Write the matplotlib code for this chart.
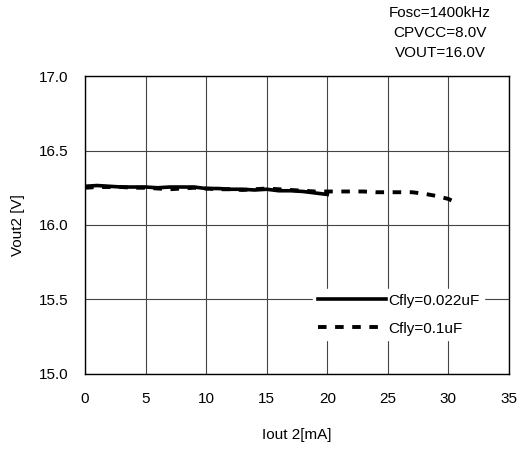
import matplotlib
matplotlib.use("Agg")
import matplotlib.pyplot as plt

plt.rcParams['font.family'] = ['Liberation Sans', 'DejaVu Sans']

x_solid = [0, 1, 2, 3, 4, 5, 6, 7, 8, 9, 10, 11, 12, 13, 14, 15, 16, 17, 18, 19, 20]
y_solid = [16.26, 16.265, 16.26, 16.255, 16.255, 16.255, 16.25, 16.255, 16.255, 16.255, 16.245, 16.245, 16.24, 16.24, 16.235, 16.24, 16.23, 16.23, 16.225, 16.215, 16.205]
x_dash = [0, 1, 2, 3, 4, 5, 6, 7, 8, 9, 10, 11, 12, 13, 14, 15, 16, 17, 18, 19, 20, 21, 22, 23, 24, 25, 26, 27, 28, 29, 30, 30.5]
y_dash = [16.25, 16.255, 16.255, 16.255, 16.25, 16.25, 16.245, 16.24, 16.245, 16.25, 16.245, 16.24, 16.24, 16.235, 16.24, 16.245, 16.24, 16.235, 16.23, 16.225, 16.225, 16.225, 16.225, 16.225, 16.22, 16.22, 16.22, 16.22, 16.21, 16.195, 16.175, 16.155]

labels = ['Cfly=0.022uF', 'Cfly=0.1uF']
conditions = ['Fosc=1400kHz', 'CPVCC=8.0V', 'VOUT=16.0V']

fig = plt.figure(figsize=(5.26, 4.5), dpi=100)
ax = fig.add_axes([0.1616, 0.169, 0.806, 0.662])
ax.plot(x_solid, y_solid, color='black', lw=2.6, label=labels[0], zorder=3)
ax.plot(x_dash, y_dash, color='black', lw=2.8, linestyle=(0, (2.2, 2.2)), label=labels[1], zorder=3)
ax.set_xlim(0, 35)
ax.set_ylim(15.0, 17.0)
ax.set_xticks(range(0, 36, 5))
ax.set_yticks([15.0, 15.5, 16.0, 16.5, 17.0])
ax.set_yticklabels(['15.0', '15.5', '16.0', '16.5', '17.0'])
ax.grid(True, color='#444444', lw=0.8)
ax.tick_params(length=0, labelsize=11, pad=12)
ax.tick_params(axis='x', pad=13)
for s in ax.spines.values():
    s.set_color('black')
    s.set_linewidth(1.0)
ax.set_xlabel('Iout 2[mA]', fontsize=11, labelpad=16)
ax.set_ylabel('Vout2 [V]', fontsize=11, labelpad=10)
leg = ax.legend(loc='upper left', bbox_to_anchor=(0.52, 0.31), frameon=True, framealpha=1,
                edgecolor='white', fancybox=False, handlelength=4.5, handletextpad=0.1,
                labelspacing=0.9, fontsize=11, borderpad=0.3)
for i, t in enumerate(conditions):
    fig.text(440 / 526, 1 - (13 + 20 * i) / 450, t, ha='center', va='center', fontsize=11)
fig.savefig('out.png', dpi=100)
